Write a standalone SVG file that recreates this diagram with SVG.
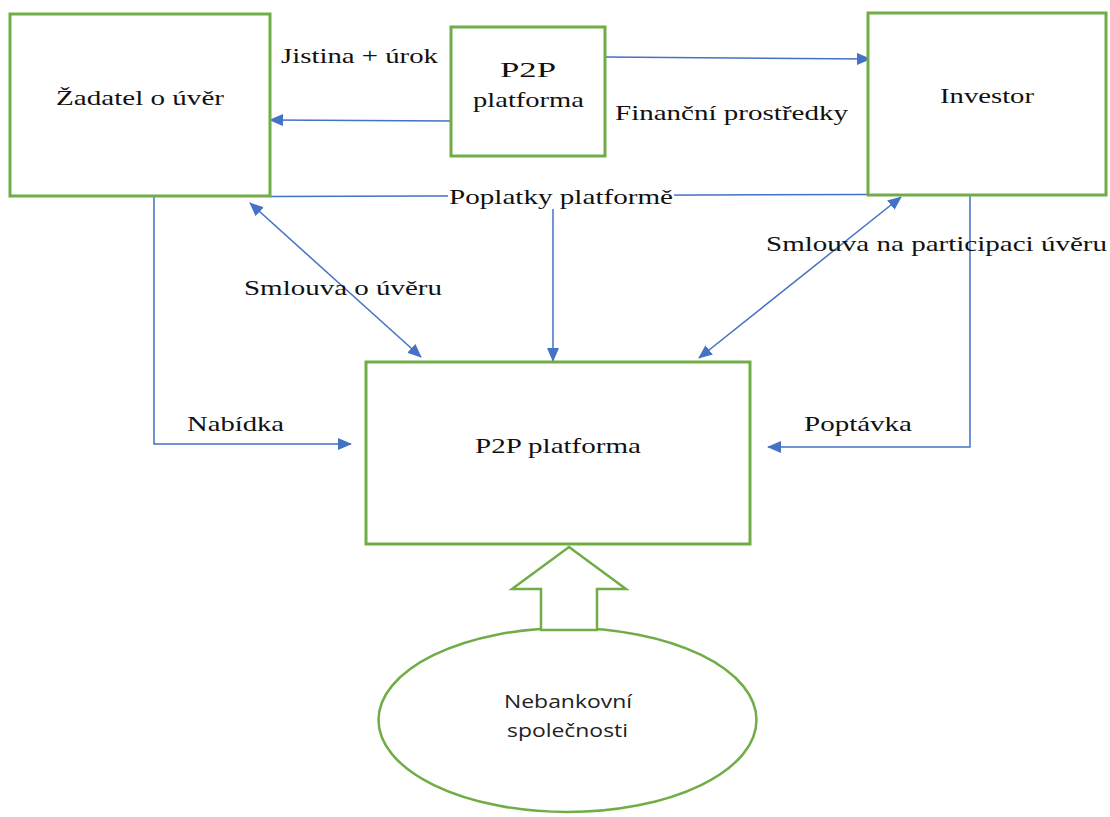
<svg xmlns="http://www.w3.org/2000/svg" width="1110" height="817" viewBox="0 0 1110 817">
<style>
.box{fill:#fff;stroke:#70AD47;stroke-width:3}
.con{fill:none;stroke:#4472C4;stroke-width:1.5}
.t{font-family:"Times New Roman","Liberation Serif",Tinos,serif;font-size:22px;fill:#111}
.s{font-family:"Open Sans","Noto Sans",sans-serif;font-size:18px;fill:#222}
</style>
<defs>
<marker id="ah" markerUnits="userSpaceOnUse" markerWidth="14" markerHeight="12" refX="13" refY="6" orient="auto-start-reverse">
<path d="M0,0 L14,6 L0,12 z" fill="#4472C4"/>
</marker>
</defs>
<rect width="1110" height="817" fill="#fff"/>
<g id="connectors">
<line class="con" x1="451" y1="121" x2="270" y2="120" marker-end="url(#ah)"/>
<line class="con" x1="605" y1="57" x2="870" y2="59" marker-end="url(#ah)"/>
<polyline class="con" points="270,196.5 868,194.5"/>
<line class="con" x1="553" y1="209" x2="553" y2="361" marker-end="url(#ah)"/>
<line class="con" x1="250" y1="203" x2="421" y2="357" marker-start="url(#ah)" marker-end="url(#ah)"/>
<line class="con" x1="901" y1="197" x2="699" y2="358" marker-start="url(#ah)" marker-end="url(#ah)"/>
<polyline class="con" points="154,196 154,444 351,444" marker-end="url(#ah)"/>
<polyline class="con" points="970,195 970,447 768,447" marker-end="url(#ah)"/>
</g>
<g id="zadatel">
<rect class="box" x="10" y="14" width="260" height="182"/>
<text class="t" x="56" y="105" textLength="168" lengthAdjust="spacingAndGlyphs">Žadatel o úvěr</text>
</g>
<g id="p2p-small">
<rect class="box" x="451" y="27" width="154" height="129"/>
<text class="t" x="500" y="77" textLength="56" lengthAdjust="spacingAndGlyphs">P2P</text>
<text class="t" x="473" y="107" textLength="111" lengthAdjust="spacingAndGlyphs">platforma</text>
</g>
<g id="investor">
<rect class="box" x="868" y="13" width="238" height="182"/>
<text class="t" x="940" y="103" textLength="94" lengthAdjust="spacingAndGlyphs">Investor</text>
</g>
<g id="p2p-main">
<rect class="box" x="366" y="362" width="384" height="182"/>
<text class="t" x="475" y="453" textLength="166" lengthAdjust="spacingAndGlyphs">P2P platforma</text>
</g>
<g id="nebankovni">
<ellipse cx="567.5" cy="720" rx="189" ry="92" fill="#fff" stroke="#70AD47" stroke-width="2.5"/>
<text class="s" x="504" y="708" textLength="128" lengthAdjust="spacingAndGlyphs">Nebankovní</text>
<text class="s" x="507" y="737" textLength="121" lengthAdjust="spacingAndGlyphs">společnosti</text>
</g>
<g id="block-arrow">
<polygon points="569,547 626,589 597,589 597,630 541,630 541,589 512,589" fill="#fff" stroke="#70AD47" stroke-width="2.5"/>
</g>
<g id="labels">
<text class="t" x="281" y="63" textLength="157" lengthAdjust="spacingAndGlyphs">Jistina + úrok</text>
<text class="t" x="615" y="120" textLength="233" lengthAdjust="spacingAndGlyphs">Finanční prostředky</text>
<rect x="448" y="186" width="226" height="22" fill="#fff"/>
<text class="t" x="449" y="204" textLength="224" lengthAdjust="spacingAndGlyphs">Poplatky platformě</text>
<text class="t" x="244" y="295" textLength="198" lengthAdjust="spacingAndGlyphs">Smlouva o úvěru</text>
<text class="t" x="766" y="251" textLength="341" lengthAdjust="spacingAndGlyphs">Smlouva na participaci úvěru</text>
<text class="t" x="187" y="431" textLength="97" lengthAdjust="spacingAndGlyphs">Nabídka</text>
<text class="t" x="804" y="431" textLength="108" lengthAdjust="spacingAndGlyphs">Poptávka</text>
</g>
</svg>
